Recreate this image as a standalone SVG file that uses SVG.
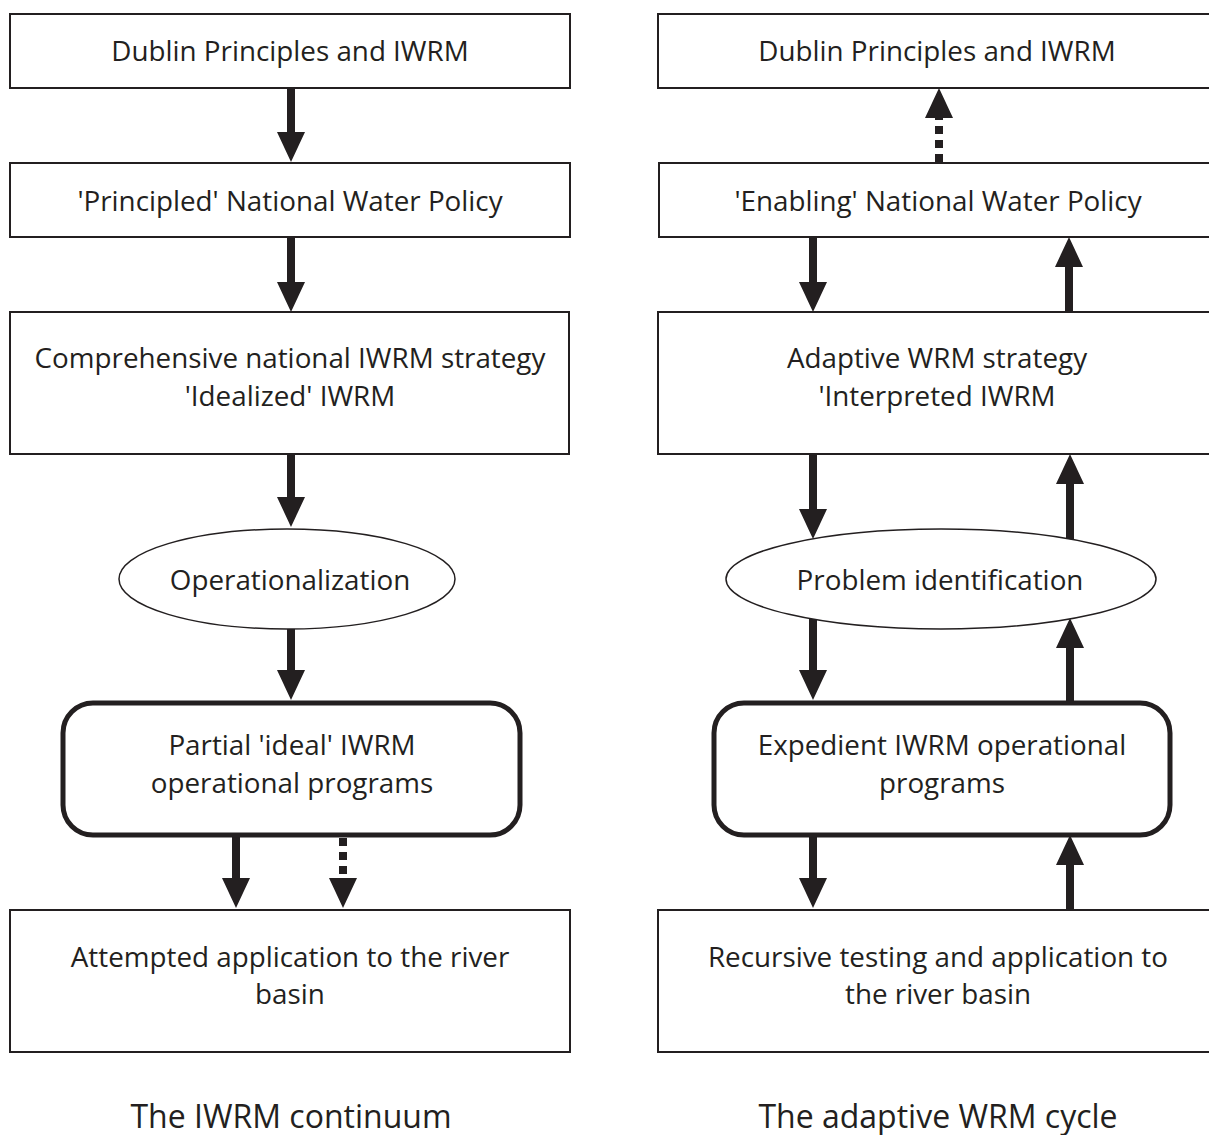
<svg xmlns="http://www.w3.org/2000/svg" width="1209" height="1135" viewBox="0 0 1209 1135">
<style>
.box{fill:#fff;stroke:#231f20;stroke-width:2}
.rbox{fill:#fff;stroke:#231f20;stroke-width:5}
.ell{fill:#fff;stroke:#231f20;stroke-width:1.5}
.t{font-family:"Open Sans","Noto Sans",sans-serif;font-size:27.8px;fill:#231f20;text-anchor:middle}
.title{font-family:"Open Sans","Noto Sans",sans-serif;font-size:32px;fill:#231f20;text-anchor:middle}
.a{stroke:#231f20;stroke-width:8;fill:none;marker-end:url(#head)}
.d{stroke:#231f20;stroke-width:8;fill:none;stroke-dasharray:8 6;marker-end:url(#head)}
</style>
<defs>
<marker id="head" viewBox="0 0 30 28" refX="0" refY="14" markerWidth="30" markerHeight="28" markerUnits="userSpaceOnUse" orient="auto">
<path d="M0,0 L30,14 L0,28 z" fill="#231f20"/>
</marker>
</defs>
<rect width="1209" height="1135" fill="#fff"/>

<g id="connectors">
<line class="a" x1="291" y1="88" x2="291" y2="132"/>
<line class="a" x1="291" y1="237" x2="291" y2="282"/>
<line class="a" x1="291" y1="454" x2="291" y2="497"/>
<line class="a" x1="291" y1="629" x2="291" y2="670"/>
<line class="a" x1="236" y1="835" x2="236" y2="878"/>
<line class="d" x1="343" y1="838" x2="343" y2="878"/>

<line class="d" x1="939" y1="162" x2="939" y2="118"/>
<line class="a" x1="813" y1="237" x2="813" y2="282"/>
<line class="a" x1="1069" y1="312" x2="1069" y2="267"/>
<line class="a" x1="813" y1="454" x2="813" y2="509"/>
<line class="a" x1="1070" y1="540" x2="1070" y2="484"/>
<line class="a" x1="813" y1="619" x2="813" y2="670"/>
<line class="a" x1="1070" y1="703" x2="1070" y2="648"/>
<line class="a" x1="813" y1="835" x2="813" y2="878"/>
<line class="a" x1="1070" y1="910" x2="1070" y2="865"/>
</g>

<g id="l-dublin"><rect class="box" x="10" y="14" width="560" height="74"/><text class="t" x="290" y="61">Dublin Principles and IWRM</text></g>
<g id="l-policy"><rect class="box" x="10" y="163" width="560" height="74"/><text class="t" x="290" y="211">'Principled' National Water Policy</text></g>
<g id="l-strategy"><rect class="box" x="10" y="312" width="559" height="142"/><text class="t" x="290" y="368">Comprehensive national IWRM strategy</text><text class="t" x="290" y="406">'Idealized' IWRM</text></g>
<g id="l-oper"><ellipse class="ell" cx="287" cy="579" rx="168" ry="50"/><text class="t" x="290" y="590">Operationalization</text></g>
<g id="l-programs"><rect class="rbox" x="63" y="703" width="457" height="132" rx="30"/><text class="t" x="292" y="755">Partial 'ideal' IWRM</text><text class="t" x="292" y="793">operational programs</text></g>
<g id="l-basin"><rect class="box" x="10" y="910" width="560" height="142"/><text class="t" x="290" y="967">Attempted application to the river</text><text class="t" x="290" y="1004">basin</text></g>

<g id="r-dublin"><rect class="box" x="658" y="14" width="560" height="74"/><text class="t" x="937" y="61">Dublin Principles and IWRM</text></g>
<g id="r-policy"><rect class="box" x="659" y="163" width="560" height="74"/><text class="t" x="938" y="211">'Enabling' National Water Policy</text></g>
<g id="r-strategy"><rect class="box" x="658" y="312" width="560" height="142"/><text class="t" x="937" y="368">Adaptive WRM strategy</text><text class="t" x="937" y="406">'Interpreted IWRM</text></g>
<g id="r-problem"><ellipse class="ell" cx="941" cy="579" rx="215" ry="50"/><text class="t" x="940" y="590">Problem identification</text></g>
<g id="r-programs"><rect class="rbox" x="714" y="703" width="456" height="132" rx="30"/><text class="t" x="942" y="755">Expedient IWRM operational</text><text class="t" x="942" y="793">programs</text></g>
<g id="r-basin"><rect class="box" x="658" y="910" width="560" height="142"/><text class="t" x="938" y="967">Recursive testing and application to</text><text class="t" x="938" y="1004">the river basin</text></g>

<text class="title" x="291" y="1128">The IWRM continuum</text>
<text class="title" x="938" y="1128">The adaptive WRM cycle</text>
</svg>
